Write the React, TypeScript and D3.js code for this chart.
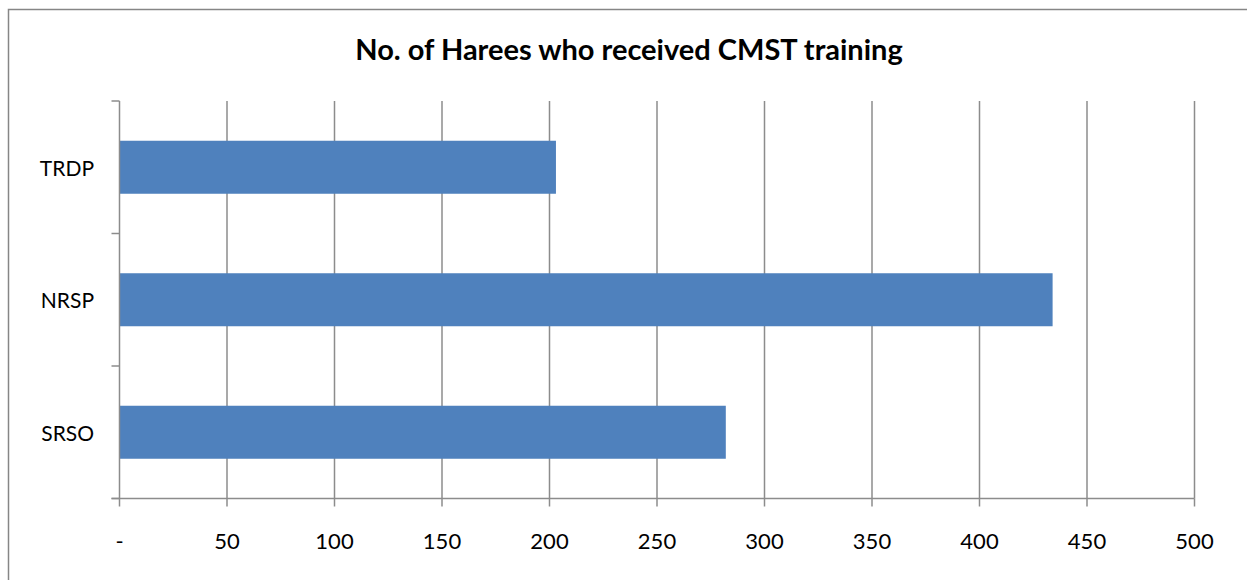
import React from "react";
import * as d3 from "d3";

const categories = ["TRDP", "NRSP", "SRSO"];
const values = [203, 434, 282];
const xTicks = [0, 50, 100, 150, 200, 250, 300, 350, 400, 450, 500];
const title = "No. of Harees who received CMST training";

export default function App() {
  const W = 1247, H = 580;
  const left = 119.5, right = 1194.5, top = 101, bottom = 498.5;
  const x = d3.scaleLinear().domain([0, 500]).range([left, right]);
  const y = d3.scaleBand<string>().domain(categories).range([top, bottom]).paddingInner(0.6).paddingOuter(0.3);
  const step = y.step();
  const bounds = d3.range(categories.length + 1).map((i) => top + i * step);
  const font = "Lato, 'Open Sans', sans-serif";
  return (
    <svg width={W} height={H} style={{ position: "absolute", left: 0, top: 0 }}>
      <rect x={0} y={0} width={W} height={H} fill="#fff" />
      <rect x={8.5} y={9.5} width={1260} height={600} fill="none" stroke="#868686" strokeWidth={1.5} />
      <text x={629} y={60} textAnchor="middle" fontFamily={font} fontWeight="bold" fontSize={29} fill="#000">{title}</text>
      {xTicks.slice(1).map((t) => (
        <line key={t} x1={x(t)} x2={x(t)} y1={top} y2={bottom} stroke="#8c8c8c" strokeWidth={1.5} />
      ))}
      {categories.map((c, i) => (
        <rect key={c} x={x(0)} y={y(c)} width={x(values[i]) - x(0)} height={y.bandwidth()} fill="#4F81BD" />
      ))}
      <line x1={left} x2={left} y1={top} y2={bottom} stroke="#8c8c8c" strokeWidth={1.5} />
      {bounds.map((b, i) => (
        <line key={i} x1={left - 8} x2={left} y1={b} y2={b} stroke="#8c8c8c" strokeWidth={1.5} />
      ))}
      <line x1={left - 8} x2={right} y1={bottom} y2={bottom} stroke="#8c8c8c" strokeWidth={1.5} />
      {xTicks.map((t) => (
        <line key={"t" + t} x1={x(t)} x2={x(t)} y1={bottom} y2={bottom + 8} stroke="#8c8c8c" strokeWidth={1.5} />
      ))}
      {xTicks.map((t) => (
        <text key={"l" + t} x={x(t)} y={549} textAnchor="middle" fontFamily={font} fontSize={22} fill="#000">{t === 0 ? "-" : t}</text>
      ))}
      {categories.map((c) => (
        <text key={"c" + c} x={94} y={(y(c) as number) + y.bandwidth() / 2 + 8.5} textAnchor="end" fontFamily={font} fontSize={21} fill="#000">{c}</text>
      ))}
    </svg>
  );
}
